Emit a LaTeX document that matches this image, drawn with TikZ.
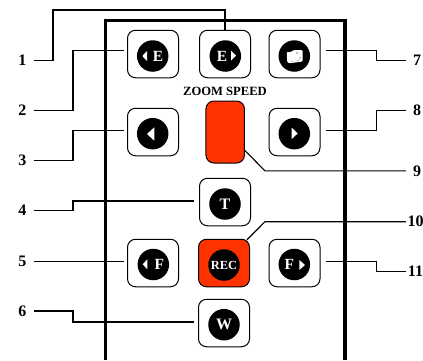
\documentclass[tikz,border=0pt]{standalone}
\usepackage{fontspec}
\setmainfont{Liberation Serif}
\definecolor{recred}{HTML}{FF3300}
\tikzset{
	keybox/.style = {draw, line width=1pt, rounded corners=8pt, minimum width=51pt, minimum height=47.5pt, inner sep=0pt},
	keydot/.style = {circle, fill=black, text=white, minimum size=31.5pt, inner sep=0pt, font=\bfseries\fontsize{16}{16}\selectfont},
	keytext/.style = {text=white, inner sep=0pt, font=\bfseries\fontsize{15.5}{15.5}\selectfont},
	numlabel/.style = {inner ysep=0pt, inner xsep=7pt, font=\bfseries\fontsize{16}{16}\selectfont},
	lead/.style = {line width=1.1pt}
}
\begin{document}
\begin{tikzpicture}[x=1pt,y=1pt]
\useasboundingbox (0,0) rectangle (423,-360);
% remote body
\draw[line width=3.2pt] (105.7,-360) -- (105.7,-20.7) -- (345,-20.7) -- (345,-360);
% keys
\node[keybox] (ebwd) at (153,-54) {};
\node[keybox] (efwd) at (225,-54) {};
\node[keybox] (snap) at (294.5,-54) {};
\node[keybox] (back) at (153,-132) {};
\node[keybox] (next) at (294.5,-132) {};
\node[keybox, fill=recred, minimum width=38.5pt, minimum height=62pt] (speed) at (225.2,-132) {};
\node[keybox] (tele) at (225,-202) {};
\node[keybox] (fbwd) at (153,-263) {};
\node[keybox, fill=recred] (rec) at (224,-263) {};
\node[keybox] (ffwd) at (294.5,-263) {};
\node[keybox] (wide) at (224,-323) {};
\node[font=\bfseries\fontsize{12.6}{12.6}\selectfont] (zoomtxt) at (225,-91) {ZOOM SPEED};
% key faces
\node[keydot] (dotebwd) at (152.7,-56) {};
\node[keydot] (dotefwd) at (225.3,-56) {};
\node[keydot] (dotsnap) at (294.3,-56) {};
\node[keydot] (dotback) at (152.7,-133.7) {};
\node[keydot] (dotnext) at (294.3,-133.7) {};
\node[keydot] (dottele) at (225,-204) {T};
\node[keydot] (dotfbwd) at (153.3,-264.5) {};
\node[keydot, font=\bfseries\fontsize{12.4}{12.4}\selectfont] (dotrec) at (224,-265) {REC};
\node[keydot] (dotffwd) at (294.3,-264.5) {};
\node[keydot, font=\bfseries\fontsize{16}{16}\selectfont] (dotwide) at (224,-324.7) {W};
\node[keytext] (txtebwd) at (158,-56) {E};
\node[keytext] (txtefwd) at (222,-56) {E};
\node[keytext] (txtfbwd) at (159.3,-264.5) {F};
\node[keytext] (txtffwd) at (289.3,-264.5) {F};
% arrows on the keys
\fill[white] (142.3,-56) -- (147,-51) -- (147,-61) -- cycle;
\fill[white] (236,-55.7) -- (231,-50.7) -- (231,-60.7) -- cycle;
\fill[white] (147,-134) -- (154.3,-127.3) -- (154.3,-140.7) -- cycle;
\fill[white] (297.7,-133.4) -- (291.7,-127.7) -- (291.7,-139) -- cycle;
\fill[white] (142.7,-264.3) -- (147.3,-259.3) -- (147.3,-269.3) -- cycle;
\fill[white] (305,-265) -- (299.3,-260) -- (299.3,-270) -- cycle;
% camera
\fill[white, rounded corners=1pt] (286.7,-52) -- (291.5,-52) -- (292.5,-50.3) -- (302.5,-50) -- (302.5,-61.5) -- (289,-63.3) -- (287.2,-62) -- cycle;
\fill[black] (297,-53) circle (.6pt) (300,-58) circle (.6pt) (292,-61) circle (.5pt) (298,-60.5) circle (.5pt);
% numbers
\node[numlabel] (n1) at (22.3,-60.5) {1};
\node[numlabel] (n2) at (22.3,-110.5) {2};
\node[numlabel] (n3) at (22.3,-160.5) {3};
\node[numlabel] (n4) at (22.3,-210.5) {4};
\node[numlabel] (n5) at (22.3,-261.3) {5};
\node[numlabel] (n6) at (22.3,-311) {6};
\node[numlabel] (n7) at (417,-60.7) {7};
\node[numlabel] (n8) at (417,-110.7) {8};
\node[numlabel] (n9) at (417,-170.9) {9};
\node[numlabel, inner xsep=1.5pt] (n10) at (415.5,-221.7) {10};
\node[numlabel, inner xsep=1.5pt] (n11) at (415.5,-271.7) {11};
% bends
\coordinate (b1) at (53,-10);
\coordinate (b2) at (73,-50.5);
\coordinate (b3) at (73,-130.5);
\coordinate (b4) at (73,-201);
\coordinate (b6) at (73,-322);
\coordinate (b7) at (376.7,-50.7);
\coordinate (b8) at (376.7,-130.7);
\coordinate (b9) at (265,-170.9);
\coordinate (b10) at (265,-221.7);
\coordinate (b11) at (376.7,-261.7);
% leads
\draw[lead] (n1.east) -| (b1) -| (efwd.north);
\draw[lead, shorten >=3pt] (n2.east) -| (b2) -- (b2 -| ebwd.west);
\draw[lead, shorten >=3pt] (n3.east) -| (b3) -- (b3 -| back.west);
\draw[lead, shorten >=5pt] (n4.east) -| (b4) -- (b4 -| tele.west);
\draw[lead, shorten >=3pt] (n5.east) -- (n5.east -| fbwd.west);
\draw[lead, shorten >=4pt] (n6.east) -| (b6) -- (b6 -| wide.west);
\draw[lead, shorten <=5.5pt] (b7 -| snap.east) -- (b7) |- (n7.west);
\draw[lead, shorten <=5.5pt] (b8 -| next.east) -- (b8) |- (n8.west);
\draw[lead] (speed.east |- 0,-150.5) -- (b9) -- (n9.west);
\draw[lead] (rec.north east) ++(-3,-1) -- (b10) -- (n10.west);
\draw[lead, shorten <=5.5pt] (b11 -| ffwd.east) -- (b11) |- (n11.west);
\end{tikzpicture}
\end{document}
